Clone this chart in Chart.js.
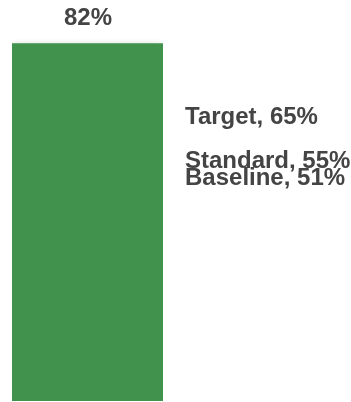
<!DOCTYPE html>
<html>
<head>
<meta charset="utf-8">
<script src="https://cdn.jsdelivr.net/npm/chart.js@4/dist/chart.umd.min.js"></script>
<style>
  html, body { margin: 0; padding: 0; background: #ffffff; }
  #wrap { width: 351px; height: 402px; position: relative; }
</style>
</head>
<body>
<div id="wrap"><canvas id="c"></canvas></div>
<script>
// Current value shown as a single bar
const categories = ['Current'];
const values = [82];
// Reference levels listed beside the bar
const refNames = ['Target', 'Standard', 'Baseline'];
const refValues = [65, 55, 51];

const textColor = '#444444';
const barColor = '#41924C';
const fontFamily = '"Liberation Sans", Arial, sans-serif';

// Soft shadow along the sides of the bar
const barShadow = {
  id: 'barShadow',
  beforeDatasetsDraw(chart) {
    const ctx = chart.ctx;
    ctx.save();
    ctx.shadowColor = 'rgba(0,0,0,0.28)';
    ctx.shadowBlur = 7;
    ctx.shadowOffsetX = 0;
    ctx.shadowOffsetY = 2;
  },
  afterDatasetsDraw(chart) {
    chart.ctx.restore();
  }
};

// Value label above the bar and reference labels to its right
const labelsPlugin = {
  id: 'labelsPlugin',
  afterDraw(chart) {
    const ctx = chart.ctx;
    const y = chart.scales.y;
    const meta = chart.getDatasetMeta(0);
    ctx.save();
    ctx.fillStyle = textColor;
    ctx.font = 'bold 24px ' + fontFamily;
    ctx.textBaseline = 'middle';
    meta.data.forEach((bar, i) => {
      ctx.textAlign = 'center';
      ctx.fillText(values[i] + '%', bar.x + 0.5, bar.y - 25);
    });
    ctx.textAlign = 'left';
    const x = chart.chartArea.right + 22;
    refNames.forEach((name, i) => {
      ctx.fillText(name + ', ' + refValues[i] + '%', x, y.getPixelForValue(refValues[i]));
    });
    ctx.restore();
  }
};

new Chart(document.getElementById('c'), {
  type: 'bar',
  data: {
    labels: categories,
    datasets: [{
      data: values,
      backgroundColor: barColor,
      borderWidth: 0,
      barPercentage: 1,
      categoryPercentage: 1
    }]
  },
  options: {
    responsive: true,
    maintainAspectRatio: false,
    animation: false,
    layout: { padding: { left: 12, right: 188, top: 0, bottom: 1 } },
    plugins: {
      legend: { display: false },
      tooltip: { enabled: false }
    },
    scales: {
      x: { display: false },
      y: { display: false, min: 0, max: 92 }
    }
  },
  plugins: [barShadow, labelsPlugin]
});
</script>
</body>
</html>
